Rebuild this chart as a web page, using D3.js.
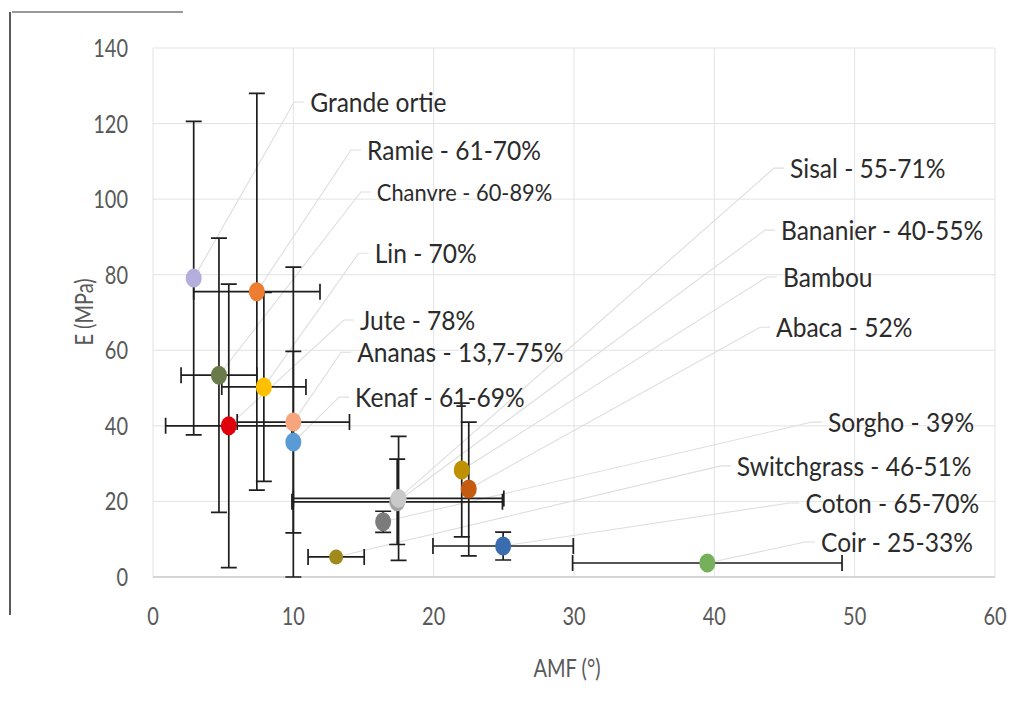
<!DOCTYPE html>
<html><head><meta charset="utf-8">
<script src="https://cdn.jsdelivr.net/npm/d3@7"></script>
<style>
body{margin:0;background:#fff}
svg{display:block}
text{font-family:Lato,"Open Sans",sans-serif}
</style>
</head><body>
<svg id="chart" width="1025" height="716"></svg>
<script>
// ---- data ----
const fibres = ["Grande ortie","Ramie - 61-70%","Chanvre - 60-89%","Lin - 70%","Jute - 78%","Ananas - 13,7-75%","Kenaf - 61-69%",
  "Bananier - 40-55%","Sisal - 55-71%","Bambou","Abaca - 52%","Sorgho - 39%","Switchgrass - 46-51%","Coton - 65-70%","Coir - 25-33%"];
const amf        = [2.9, 7.4, 4.7, 7.9, 5.4, 10.0, 10.0, 17.4, 17.5, 22.0, 22.5, 16.4, 13.05, 24.95, 39.5];
const amfErr     = [0,   4.5, 2.7, 3.0, 4.5, 4.0,  0,    7.5,  7.5,  0,    0,    0,    2.0,   5.0,   9.6];
const modulus    = [79.1, 75.5, 53.4, 50.3, 40.0, 41.0, 35.7, 19.9, 20.8, 28.3, 23.3, 14.6, 5.3, 8.2, 3.7];
const modulusErr = [41.5, 52.5, 36.3, 25.0, 37.5, 41.0, 24.0, 11.3, 16.4, 17.7, 17.7, 2.8, 0, 3.7, 0];
const xTicks = [0,10,20,30,40,50,60];
const yTicks = [0,20,40,60,80,100,120,140];
const xTitle = "AMF (°)";
const yTitle = "E (MPa)";

// ---- styles / layout ----
const colors = ["#b3aedb","#ed7d31","#6b7a4b","#ffc000","#e0000b","#f7a57c","#5b9bd5",
  "#a5a5a5","#c9c9c9","#bf9000","#c55a11","#7b7b7b","#a08a1c","#3a6db0","#77b05a"];
const labelAt = [[11.2,125.7],[15.25,113.0],[15.95,101.9],[15.8,85.7],[14.75,68.0],[14.55,59.5],[14.4,47.6],
  [44.75,91.8],[45.4,108.2],[44.9,79.4],[44.4,66.1],[48.1,41.0],[41.6,29.4],[46.5,19.6],[47.6,9.26]];
const labelSize = [27,27,24,27,27,27,27,27,27,27,27,27,27,27,27];
const labelSqueeze = 0.91;

const W = 1025, H = 716;
const svg = d3.select("#chart");
const x = d3.scaleLinear().domain([0,60]).range([153,995]);
const y = d3.scaleLinear().domain([0,140]).range([577,48]);

svg.append("rect").attr("width",W).attr("height",H).attr("fill","#fff");
// frame remnants
svg.append("line").attr("x1",10).attr("x2",10).attr("y1",12).attr("y2",615).attr("stroke","#5a5a5a").attr("stroke-width",2);
svg.append("line").attr("x1",12).attr("x2",183).attr("y1",12).attr("y2",12).attr("stroke","#777").attr("stroke-width",1.5);

// gridlines
const grid = svg.append("g");
grid.selectAll(".gy").data(yTicks.filter(d=>d>0)).join("line")
  .attr("x1",x(0)).attr("x2",x(60)).attr("y1",d=>y(d)).attr("y2",d=>y(d))
  .attr("stroke","#e3e3e3").attr("stroke-width",1);
grid.selectAll(".gx").data(xTicks).join("line")
  .attr("x1",d=>x(d)).attr("x2",d=>x(d)).attr("y1",y(140)).attr("y2",y(0))
  .attr("stroke","#e3e3e3").attr("stroke-width",1);
// x axis line
svg.append("line").attr("x1",x(0)).attr("x2",x(60)).attr("y1",y(0)).attr("y2",y(0)).attr("stroke","#c8c8c8").attr("stroke-width",1.5);

// tick labels
const tickFont = 25, squeeze = 0.8;
svg.append("g").selectAll("g").data(yTicks).join("g")
  .attr("transform",d=>`translate(128,${y(d)})`)
  .append("text").attr("transform",`scale(${squeeze},1)`)
  .attr("text-anchor","end").attr("dy","0.36em").attr("font-size",tickFont).attr("fill","#595959").text(d=>d);
svg.append("g").selectAll("g").data(xTicks).join("g")
  .attr("transform",d=>`translate(${x(d)},616)`)
  .append("text").attr("transform",`scale(${squeeze},1)`)
  .attr("text-anchor","middle").attr("dy","0.36em").attr("font-size",tickFont).attr("fill","#595959").text(d=>d);

// axis titles
svg.append("g").attr("transform","translate(567,668)")
  .append("text").attr("transform",`scale(${squeeze},1)`).attr("text-anchor","middle").attr("dy","0.36em")
  .attr("font-size",25).attr("fill","#595959").text(xTitle);
svg.append("g").attr("transform","translate(84,312) rotate(-90)")
  .append("text").attr("transform",`scale(${squeeze},1)`).attr("text-anchor","middle").attr("dy","0.36em")
  .attr("font-size",25).attr("fill","#595959").text(yTitle);

const rows = fibres.map((n,i)=>({n,i,ax:amf[i],ae:amfErr[i],e:modulus[i],ee:modulusErr[i],c:colors[i],
  lx:x(labelAt[i][0]),ly:y(labelAt[i][1]),fs:labelSize[i]}));

// leader lines
svg.append("g").selectAll("path").data(rows).join("path")
  .attr("d",d=>`M${x(d.ax)},${y(d.e)}L${d.lx-16},${d.ly}L${d.lx-6},${d.ly}`)
  .attr("fill","none").attr("stroke","#dedede").attr("stroke-width",1.1);

// error bars
const cap = 8;
const eb = svg.append("g").attr("stroke","#1e1e1e").attr("stroke-width",1.7).attr("fill","none");
rows.forEach(d=>{
  if(d.ee>0){
    const x0=x(d.ax), y1=y(d.e+d.ee), y2=y(d.e-d.ee);
    eb.append("path").attr("d",`M${x0},${y1}V${y2}M${x0-cap},${y1}H${x0+cap}M${x0-cap},${y2}H${x0+cap}`);
  }
  if(d.ae>0){
    const y0=y(d.e), x1=x(d.ax-d.ae), x2=x(d.ax+d.ae);
    eb.append("path").attr("d",`M${x1},${y0}H${x2}M${x1},${y0-cap}V${y0+cap}M${x2},${y0-cap}V${y0+cap}`);
  }
});

// markers
svg.append("g").selectAll("ellipse").data(rows).join("ellipse")
  .attr("cx",d=>x(d.ax)).attr("cy",d=>y(d.e))
  .attr("rx",d=>d.i===12?7:8).attr("ry",d=>d.i===12?7.5:9.5)
  .attr("fill",d=>d.c);

// data labels
svg.append("g").selectAll("g").data(rows).join("g")
  .attr("transform",d=>`translate(${d.lx},${d.ly})`)
  .append("text").attr("transform",`scale(${labelSqueeze},1)`).attr("dy","0.36em")
  .attr("font-size",d=>d.fs).attr("fill","#2b2b2b").text(d=>d.n);
</script>
</body></html>
